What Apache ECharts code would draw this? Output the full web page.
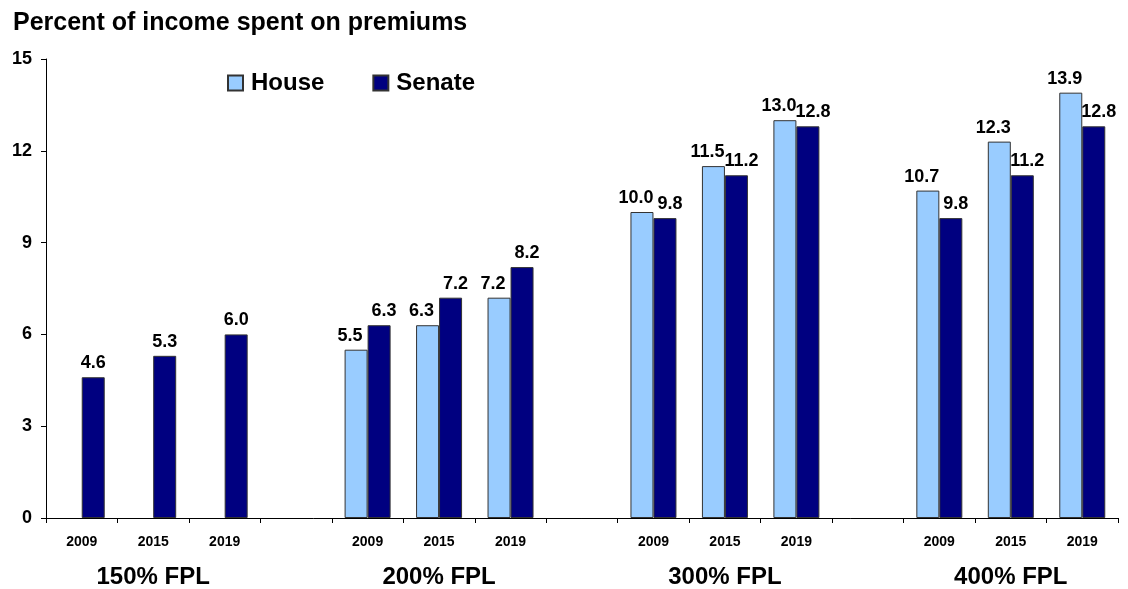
<!DOCTYPE html>
<html>
<head>
<meta charset="utf-8">
<script src="https://cdn.jsdelivr.net/npm/echarts@6/dist/echarts.min.js"></script>
<style>html,body{margin:0;padding:0;background:#fff}#c{width:1128px;height:589px}</style>
</head>
<body>
<div id="c"></div>
<script>
var years = ['2009','2015','2019','','2009','2015','2019','','2009','2015','2019','','2009','2015','2019'];
var groupLabels = ['','150% FPL','','','','200% FPL','','','','300% FPL','','','','400% FPL',''];
var house = [null,null,null,null,5.5,6.3,7.2,null,10.0,11.5,13.0,null,10.7,12.3,13.9];
var senate = [4.6,5.3,6.0,null,6.3,7.2,8.2,null,9.8,11.2,12.8,null,9.8,11.2,12.8];
var yTicks = [0,3,6,9,12,15];

var FONT = 'Liberation Sans, Arial, sans-serif';
var chart = echarts.init(document.getElementById('c'));
function lbl(off){
  return {show:true, position:'top', distance:5, offset:off, color:'#000', fontWeight:'bold', fontSize:18, fontFamily:FONT,
    formatter:function(p){return p.value==null?'':Number(p.value).toFixed(1);}};
}
var senateData = senate.map(function(v,i){
  var paired = house[i] != null;
  return {value:v, label:{offset: paired ? [5,0] : [0,0]}};
});
chart.setOption({
  animation:false,
  title:{text:'Percent of income spent on premiums', left:8, top:6,
    textStyle:{fontSize:25, fontWeight:'bold', color:'#000', fontFamily:FONT}},
  legend:{left:222, top:66, itemWidth:15, itemHeight:15, itemGap:48, icon:'rect',
    textStyle:{fontSize:24, fontWeight:'bold', color:'#000', fontFamily:FONT, padding:[0,0,0,3]},
    data:['House','Senate']},
  grid:{left:46, right:10, top:59, bottom:70},
  xAxis:[{
    type:'category', data:years, boundaryGap:true,
    axisLine:{lineStyle:{color:'#000', width:1}},
    axisTick:{show:true, interval:0, length:5, lineStyle:{color:'#000'}},
    axisLabel:{interval:0, margin:17, color:'#000', fontWeight:'bold', fontSize:14, fontFamily:FONT}
  },{
    type:'category', data:groupLabels, position:'bottom', offset:0,
    axisLine:{show:false}, axisTick:{show:false},
    axisLabel:{interval:0, margin:47, color:'#000', fontWeight:'bold', fontSize:24, fontFamily:FONT}
  }],
  yAxis:{
    type:'value', min:yTicks[0], max:yTicks[yTicks.length-1], interval:3,
    splitLine:{show:false},
    axisLine:{show:true, lineStyle:{color:'#000', width:1}},
    axisTick:{show:true, length:5, lineStyle:{color:'#000'}},
    axisLabel:{margin:14, color:'#000', fontWeight:'bold', fontSize:18, fontFamily:FONT}
  },
  series:[
    {name:'House', type:'bar', data:house, barWidth:23, barGap:'0%',
      itemStyle:{color:'#99CCFF', borderColor:'#333', borderWidth:1}, label:lbl([-6,0])},
    {name:'Senate', type:'bar', data:senateData, barWidth:23, barGap:'0%',
      itemStyle:{color:'#000080', borderColor:'#333', borderWidth:1}, label:lbl([5,0])}
  ]
});
</script>
</body>
</html>
